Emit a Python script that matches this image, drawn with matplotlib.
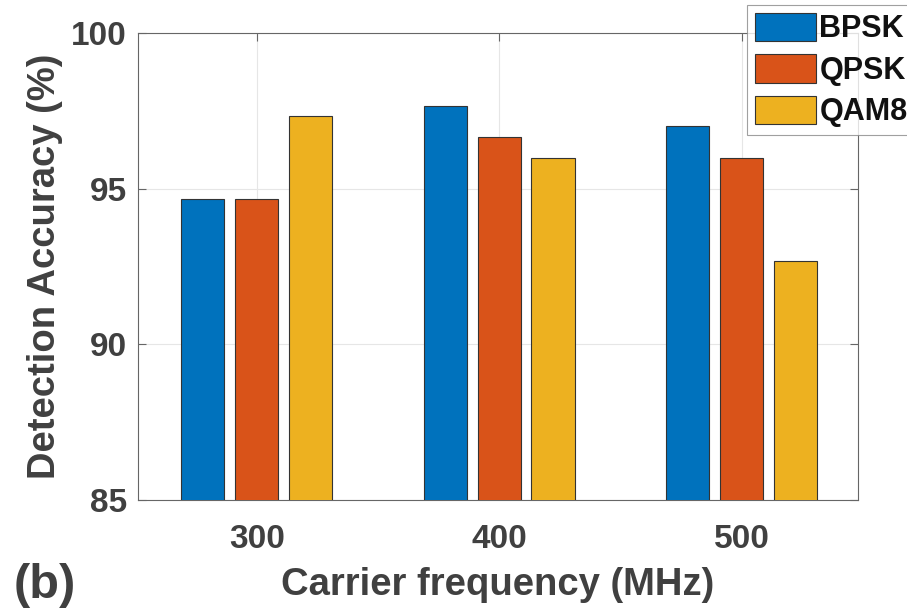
import numpy as np
import matplotlib.pyplot as plt

# dados
freqs = ["300", "400", "500"]
bpsk = [94.67, 97.67, 97.0]
qpsk = [94.67, 96.67, 96.0]
qam8 = [97.33, 96.0, 92.67]
series = ["BPSK", "QPSK", "QAM8"]
cores = ["#0072BD", "#D95319", "#EDB120"]

plt.rcParams['font.family'] = ['Liberation Sans', 'DejaVu Sans']
plt.rcParams['font.weight'] = 'bold'
texto = "#404040"

fig = plt.figure(figsize=(9.07, 6.1), dpi=100)
ax = fig.add_axes([0.152, 0.180, 0.794, 0.766])

x = np.arange(len(freqs))
largura = 0.178
desloc = 0.222
for k, (vals, nome, cor) in enumerate(zip([bpsk, qpsk, qam8], series, cores)):
    ax.bar(x + (k - 1) * desloc, vals, width=largura, color=cor,
           edgecolor="#333333", linewidth=0.8, label=nome, zorder=3)

ax.set_xlim(-0.49, 2.48)
ax.set_ylim(85, 100)
ax.set_yticks([85, 90, 95, 100])
ax.set_xticks(x)
ax.set_xticklabels(freqs)
ax.grid(True, color="#e6e6e6", linewidth=0.8, zorder=0)
ax.tick_params(direction="in", length=6, width=0.8, colors="#666666",
               labelcolor=texto, labelsize=24, top=True, right=True)
ax.tick_params(axis="x", pad=17)
ax.tick_params(axis="y", pad=8)
for lab in ax.get_xticklabels() + ax.get_yticklabels():
    lab.set_fontweight("bold")
for s in ax.spines.values():
    s.set_color("#666666")
    s.set_linewidth(0.8)

ax.set_xlabel("Carrier frequency (MHz)", fontsize=27.5, fontweight="bold", color=texto, labelpad=9)
ax.set_ylabel("Detection Accuracy (%)", fontsize=27.5, fontweight="bold", color=texto, labelpad=6)

fig.text(0.015, 0.0197, "(b)", fontsize=35, fontweight="bold", color=texto, va="baseline")

leg = fig.legend(loc="upper left", bbox_to_anchor=(0.8236, 0.992), fontsize=22,
                 frameon=True, fancybox=False, handlelength=2.0, handleheight=1.05,
                 labelspacing=0.33, borderpad=0.25, handletextpad=0.12,
                 borderaxespad=0)
leg.get_frame().set_edgecolor("#888888")
leg.get_frame().set_linewidth(0.8)
for t in leg.get_texts():
    t.set_fontweight("bold")
    t.set_color("#111111")

fig.savefig("out.png", dpi=100)
